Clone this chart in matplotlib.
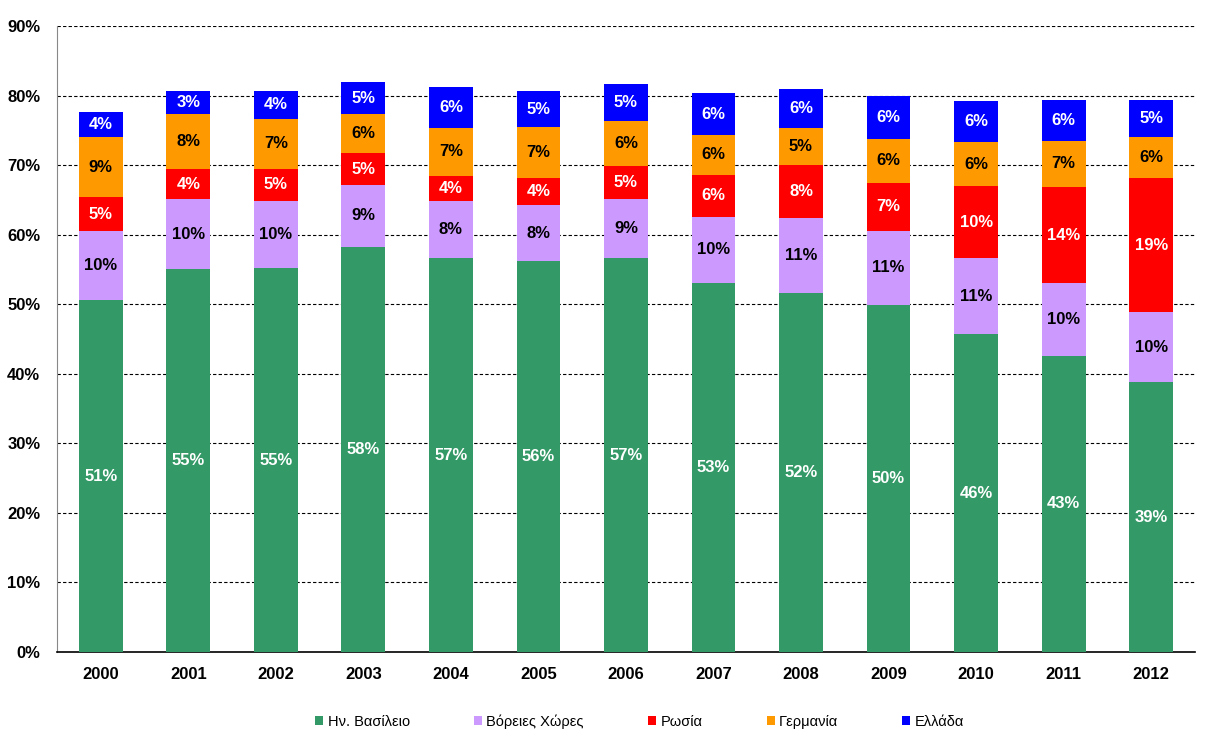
import matplotlib
matplotlib.use("Agg")
from matplotlib import pyplot as plt
import numpy as np

plt.rcParams['font.family'] = ['Liberation Sans', 'DejaVu Sans']

years = ['2000', '2001', '2002', '2003', '2004', '2005', '2006',
         '2007', '2008', '2009', '2010', '2011', '2012']

# shares (%) per origin country
uk = [50.6, 55.0, 55.2, 58.3, 56.6, 56.2, 56.6, 53.0, 51.6, 49.9, 45.7, 42.6, 38.8]
nordic = [9.9, 10.1, 9.7, 8.8, 8.3, 8.0, 8.6, 9.6, 10.8, 10.7, 10.9, 10.4, 10.1]
russia = [4.9, 4.3, 4.6, 4.6, 3.6, 3.9, 4.7, 6.0, 7.6, 6.9, 10.4, 13.9, 19.2]
germany = [8.6, 7.9, 7.2, 5.6, 6.9, 7.4, 6.4, 5.8, 5.4, 6.2, 6.3, 6.6, 5.9]
greece = [3.7, 3.3, 3.9, 4.7, 5.8, 5.1, 5.3, 5.9, 5.6, 6.3, 5.9, 5.9, 5.3]

series = [
    ('Ην. Βασίλειο', uk, '#339966', 'white'),
    ('Βόρειες Χώρες', nordic, '#CC99FF', 'black'),
    ('Ρωσία', russia, '#FF0000', 'white'),
    ('Γερμανία', germany, '#FF9900', 'black'),
    ('Ελλάδα', greece, '#0000FF', 'white'),
]

fig = plt.figure(figsize=(12.07, 7.39), dpi=100)
ax = fig.add_axes([0.0472, 0.1177, 0.9428, 0.8471])

x = np.arange(len(years))
bottom = np.zeros(len(years))
handles = []
for name, vals, color, txtcol in series:
    vals = np.array(vals)
    bars = ax.bar(x, vals, 0.5, bottom=bottom, color=color, label=name, zorder=3)
    handles.append(bars)
    for xi, b, v in zip(x, bottom, vals):
        ax.text(xi, b + v / 2, f'{v:.0f}%', ha='center', va='center',
                color=txtcol, fontsize=12, fontweight='bold', zorder=4)
    bottom += vals

ax.set_xlim(-0.5, len(years) - 0.5)
ax.set_ylim(0, 90)
ax.set_yticks(range(0, 91, 10))
ax.set_yticklabels([f'{t}%' for t in range(0, 91, 10)], fontsize=12, fontweight='bold')
ax.set_xticks(x)
ax.set_xticklabels(years, fontsize=12, fontweight='bold')
ax.tick_params(axis='x', length=0, pad=11)
ax.tick_params(axis='y', length=0, pad=12)

for t in range(10, 91, 10):
    ax.axhline(t, color='black', lw=0.8, ls=(0, (3, 2)), zorder=1)

for s in ['top', 'right']:
    ax.spines[s].set_visible(False)
ax.spines['left'].set_color('#888888')
ax.spines['bottom'].set_color('black')
ax.spines['bottom'].set_linewidth(1.2)

fig.legend(handles=handles, loc='center', bbox_to_anchor=(0.53, 0.024), ncol=5,
           frameon=False, fontsize=10.5, handlelength=0.55, handleheight=0.55,
           handletextpad=0.3, columnspacing=4.4)

fig.savefig('out.png', dpi=100)
